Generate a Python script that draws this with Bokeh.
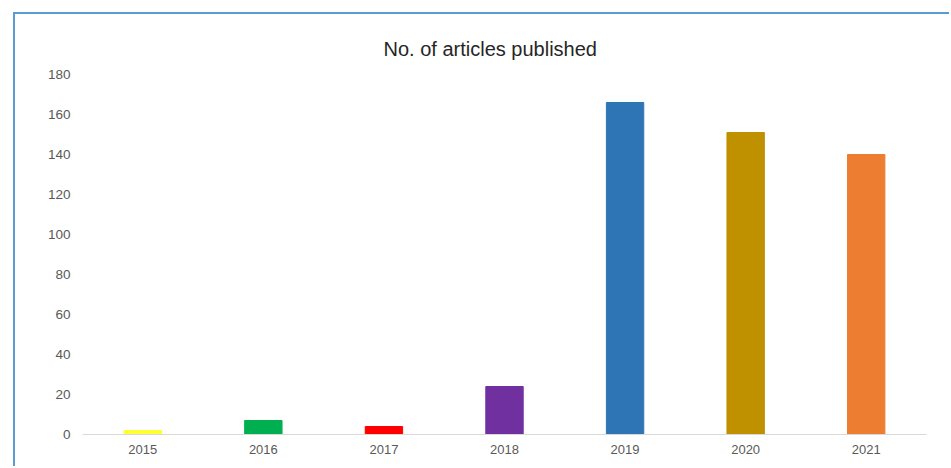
from bokeh.plotting import figure
from bokeh.models import ColumnDataSource, Title
from bokeh.embed import file_html
from bokeh.resources import INLINE

years = ["2015", "2016", "2017", "2018", "2019", "2020", "2021"]
articles = [2, 7, 4, 24, 166, 151, 140]
colors = ["#FFFF33", "#00B050", "#FF0000", "#7030A0", "#2E75B6", "#BF9000", "#ED7D31"]
y_ticks = [0, 20, 40, 60, 80, 100, 120, 140, 160, 180]
title_text = "No. of articles published"

src = ColumnDataSource(dict(year=years, n=articles, color=colors))

p = figure(x_range=years, y_range=(0, 180), width=936, height=454,
           output_backend="svg", toolbar_location=None,
           min_border_left=67, min_border_right=25, min_border_top=60, min_border_bottom=34)
p.styles = {"margin-left": "13px", "margin-top": "12px",
            "border-top": "2px solid #5B9BD5", "border-left": "2px solid #5B9BD5"}

p.vbar(x="year", top="n", width=0.31, color="color", source=src)

p.x_range.range_padding = 0
p.outline_line_color = None
p.xgrid.grid_line_color = None
p.ygrid.grid_line_color = None

p.yaxis.ticker = y_ticks
p.yaxis.axis_line_color = None
p.yaxis.major_tick_line_color = None
p.yaxis.minor_tick_line_color = None
p.yaxis.major_label_standoff = 6
p.yaxis.major_label_text_font = "Liberation Sans"
p.yaxis.major_label_text_font_size = "13.5px"
p.yaxis.major_label_text_color = "#595959"

p.xaxis.axis_line_color = "#D9D9D9"
p.xaxis.major_tick_line_color = None
p.xaxis.minor_tick_line_color = None
p.xaxis.major_label_standoff = 4
p.xaxis.major_label_text_font = "Liberation Sans"
p.xaxis.major_label_text_font_size = "13px"
p.xaxis.major_label_text_color = "#595959"

t = Title(text=title_text, align="left", offset=301, text_font="Liberation Sans",
          text_font_size="20px", text_font_style="normal", text_color="#262626",
          standoff=29)
p.add_layout(t, "above")

open("out.html", "w").write(file_html(p, INLINE))
